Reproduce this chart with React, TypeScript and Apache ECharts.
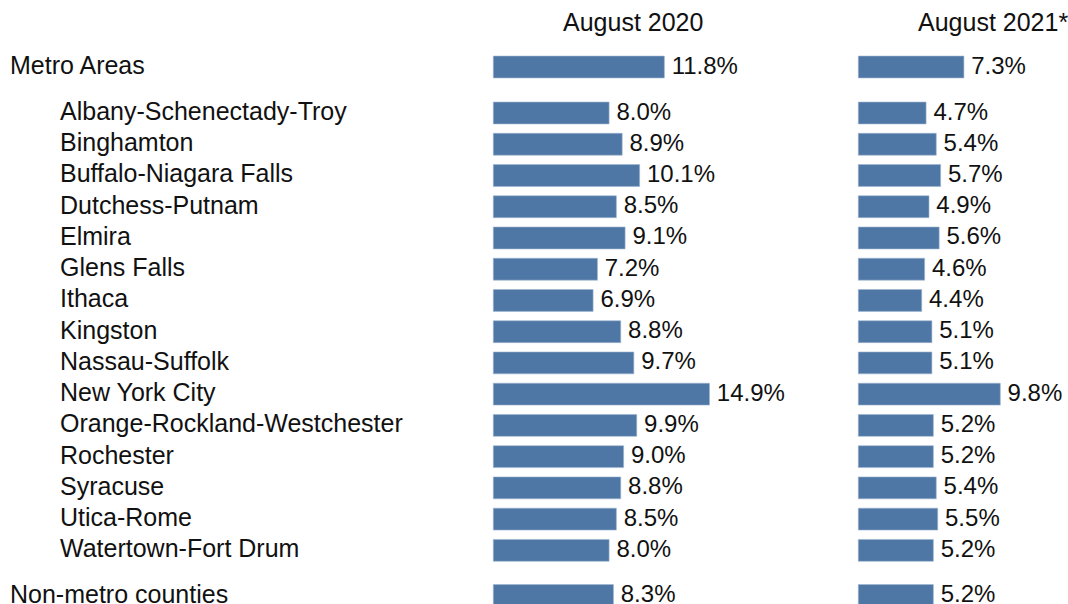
import React, { useEffect, useRef } from "react";
import * as echarts from "echarts";

const topCategory = ["Metro Areas"];
const metroCategories = [
  "Albany-Schenectady-Troy",
  "Binghamton",
  "Buffalo-Niagara Falls",
  "Dutchess-Putnam",
  "Elmira",
  "Glens Falls",
  "Ithaca",
  "Kingston",
  "Nassau-Suffolk",
  "New York City",
  "Orange-Rockland-Westchester",
  "Rochester",
  "Syracuse",
  "Utica-Rome",
  "Watertown-Fort Drum",
];
const bottomCategory = ["Non-metro counties"];

const top2020 = [11.8];
const top2021 = [7.3];
const metro2020 = [8.0, 8.9, 10.1, 8.5, 9.1, 7.2, 6.9, 8.8, 9.7, 14.9, 9.9, 9.0, 8.8, 8.5, 8.0];
const metro2021 = [4.7, 5.4, 5.7, 4.9, 5.6, 4.6, 4.4, 5.1, 5.1, 9.8, 5.2, 5.2, 5.4, 5.5, 5.2];
const bottom2020 = [8.3];
const bottom2021 = [5.2];

const panelTitles = ["August 2020", "August 2021*"];

const FONT = "'Liberation Sans', Arial, sans-serif";
const BAR = "#4e77a5";
const PX = 14.55; // px per percent
const ROW = 31.24;

export default function App() {
  const ref = useRef<HTMLDivElement>(null);
  useEffect(() => {
    if (!ref.current) return;
    const chart = echarts.init(ref.current, null, { renderer: "svg" });

    const rowsTops = [
      { top: 67 - ROW / 2, n: 1, cats: topCategory, d: [top2020, top2021], labelX: 10 },
      { top: 113 - ROW / 2, n: 15, cats: metroCategories, d: [metro2020, metro2021], labelX: 60 },
      { top: 595.5 - ROW / 2, n: 1, cats: bottomCategory, d: [bottom2020, bottom2021], labelX: 10 },
    ];
    const panels = [
      { left: 493, max: 16 },
      { left: 858, max: 12 },
    ];

    const grid: any[] = [];
    const xAxis: any[] = [];
    const yAxis: any[] = [];
    const series: any[] = [];
    let idx = 0;
    rowsTops.forEach((r) => {
      panels.forEach((p, pi) => {
        grid.push({
          left: p.left,
          top: r.top,
          width: p.max * PX,
          height: r.n * ROW,
          containLabel: false,
          outerBoundsMode: "none",
        });
        xAxis.push({
          type: "value",
          gridIndex: idx,
          min: 0,
          max: p.max,
          show: false,
        });
        yAxis.push({
          type: "category",
          gridIndex: idx,
          data: r.cats,
          inverse: true,
          axisLine: { show: false },
          axisTick: { show: false },
          splitLine: { show: false },
          axisLabel: {
            show: pi === 0,
            interval: 0,
            hideOverlap: false,
            align: "left",
            verticalAlign: "bottom",
            lineHeight: 4,
            margin: p.left - r.labelX,
            fontSize: 25,
            fontFamily: FONT,
            color: "#111",
          },
        });
        series.push({
          type: "bar",
          xAxisIndex: idx,
          yAxisIndex: idx,
          data: r.d[pi],
          barWidth: 22.5,
          itemStyle: { color: BAR, borderColor: "#9fb6d0", borderWidth: 0.6 },
          label: {
            show: true,
            position: "right",
            distance: 7,
            offset: [0, -2],
            lineHeight: 18,
            fontSize: 24,
            fontFamily: FONT,
            color: "#111",
            formatter: (v: any) => Number(v.value).toFixed(1) + "%",
          },
        });
        idx++;
      });
    });

    const titleStyle = { fontSize: 25, fontWeight: "normal", fontFamily: FONT, color: "#111" };
    chart.setOption({
      animation: false,
      backgroundColor: "#ffffff",
      title: [
        { text: panelTitles[0], left: 563, top: 9, textStyle: titleStyle, padding: 0 },
        { text: panelTitles[1], left: 918, top: 9, textStyle: titleStyle, padding: 0 },
      ],
      grid,
      xAxis,
      yAxis,
      series,
    });
    return () => chart.dispose();
  }, []);
  return (
    <div
      ref={ref}
      style={{ position: "fixed", left: 0, top: 0, width: 1068, height: 604 }}
    />
  );
}
